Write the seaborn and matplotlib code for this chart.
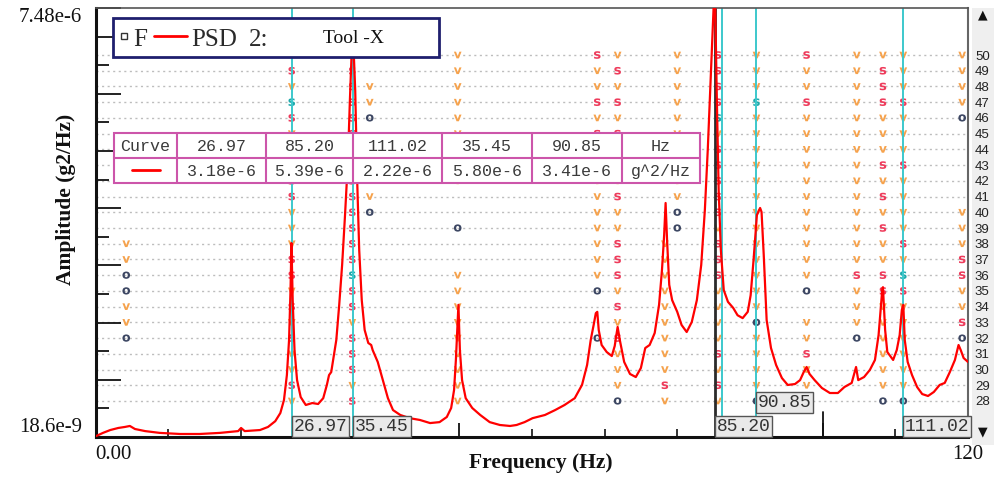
import numpy as np
import pandas as pd
import matplotlib
matplotlib.use("Agg")
import matplotlib.pyplot as plt
import seaborn as sns
from matplotlib.patches import Rectangle
from matplotlib.lines import Line2D
from matplotlib.ticker import FixedLocator, FixedFormatter, NullFormatter

# ---------------------------------------------------------------- data
psd_freq_hz = [0.0, 1.0, 2.0, 3.1, 4.0, 4.7, 5.4, 6.8, 8.8, 11.6, 14.3, 17.1,
               19.6, 20.0, 20.5, 22.6, 23.7, 24.7, 25.4, 25.9, 26.3, 26.6, 26.8, 26.93,
               27.1, 27.35, 27.7, 28.2, 28.9, 29.8, 30.6, 31.3, 31.8, 32.1, 32.4, 32.7,
               33.1, 33.5, 33.9, 34.3, 34.7, 34.97, 35.25, 35.4, 35.7, 35.97, 36.25, 36.6,
               37.0, 37.5, 37.9, 38.1, 38.8, 39.5, 40.2, 40.9, 41.9, 43.2, 44.6, 46.0,
               47.3, 48.3, 48.9, 49.3, 49.55, 49.8, 49.9, 50.1, 50.4, 50.9, 51.8, 52.9,
               54.2, 55.6, 57.0, 57.9, 59.0, 60.1, 61.8, 63.2, 64.5, 65.9, 66.9, 67.6,
               68.1, 68.5, 68.8, 69.0, 69.2, 69.6, 70.3, 71.0, 71.4, 71.8, 72.1, 72.7,
               73.5, 74.3, 75.0, 75.6, 76.2, 76.9, 77.5, 77.9, 78.2, 78.4, 78.6, 78.9,
               79.3, 80.0, 80.6, 81.3, 82.0, 82.7, 83.3, 83.8, 84.2, 84.6, 85.0, 85.2,
               85.45, 85.7, 86.0, 86.4, 86.98, 87.7, 88.3, 89.0, 89.7, 90.1, 90.5, 90.96,
               91.4, 91.6, 91.9, 92.3, 92.9, 93.6, 94.4, 95.2, 96.2, 96.9, 97.4, 97.8,
               98.2, 98.9, 99.9, 101.0, 102.1, 103.0, 104.0, 104.6, 104.9, 105.7, 106.5, 107.2,
               107.7, 108.2, 108.3, 108.6, 108.9, 109.7, 110.2, 110.6, 110.9, 111.1, 111.3, 111.7,
               112.3, 113.0, 113.7, 114.5, 115.3, 116.1, 116.8, 117.5, 118.2, 118.7, 119.0, 119.4, 120.0]
# amplitude in units of 1e-9 g^2/Hz
psd_amp_nano = [18.8, 19.7, 20.5, 21.1, 21.4, 21.7, 20.8, 20.2, 19.7, 19.4, 19.4, 19.7,
                20.2, 21.1, 20.2, 20.5, 21.4, 23.2, 26.0, 31.2, 44.2, 72.2, 145, 280,
                126, 62.7, 41.2, 32.5, 29.1, 29.9, 29.5, 32.0, 38.5, 44.2, 46.1, 56.1,
                72.2, 118, 206, 414, 893, 2070, 4460, 5130, 2380, 676, 254, 126,
                83.0, 69.2, 67.3, 62.7, 53.1, 41.2, 32.0, 27.1, 25.3, 24.2, 23.6, 22.6,
                22.9, 24.6, 27.9, 35.9, 54.6, 95.4, 118, 62.7, 41.2, 32.0, 27.9, 25.3,
                22.9, 22.0, 21.7, 22.0, 22.9, 24.2, 25.3, 27.1, 29.1, 32.0, 38.5, 50.9,
                72.2, 89.0, 105, 107, 83.0, 67.3, 61.0, 57.7, 66.4, 86.6, 72.2, 53.1,
                44.9, 43.0, 48.8, 64.5, 67.3, 79.6, 118, 192, 313, 490, 292, 156,
                126, 107, 89.0, 80.7, 92.8, 126, 206, 444, 1030, 2730, 7480, 9000,
                2070, 587, 254, 145, 123, 113, 102, 98.0, 107, 135, 221, 414,
                457, 432, 237, 95.4, 64.5, 50.9, 42.4, 38.5, 39.0, 41.2, 46.1, 49.5,
                44.9, 41.2, 36.9, 34.4, 34.4, 37.4, 39.6, 49.5, 41.2, 43.0, 47.5, 54.6,
                77.4, 145, 151, 83.0, 61.0, 54.6, 62.7, 77.4, 110, 118, 72.2, 53.1,
                44.2, 37.4, 33.9, 33.0, 34.9, 38.5, 39.6, 46.1, 54.6, 67.3, 62.7, 56.1, 53.1]

y_min = 18.6e-9
y_max = 7.48e-6
y_tick_labels = ["18.6e-9", "7.48e-6"]
x_min, x_max = 0.0, 120.0
x_tick_labels = ["0.00", "120"]

# stabilisation diagram: model orders 50 ... 28 (one character per order)
orders = list(range(50, 27, -1))
stab_freq_hz = [4.2, 26.97, 35.3, 37.7, 49.8, 69.0, 71.8, 78.3, 80.0,
                85.6, 90.9, 97.8, 104.7, 108.3, 111.1, 119.2]
stab_marks = [
    "............vvoovvo....",
    ".svSsvsvssvvvssvsvsvvsv",
    ".sssssssssssssSssvsssvs",
    "..vvo....vo............",
    "vvvvvvvvv..o..vvvvvvvvv",
    "svvsvsvvvvvvvvvo..o....",
    "vsvsvsvsvsvvsssvsvsvvvo",
    "............vvvvvvvvvsv",
    "vvvvvvvvvvoo...........",
    "ssssSvsssssvsssvvvvsvsv",
    "vvvSvvvvvvvvvvvvvovvvvo",
    "svvsvvvvvvvvvvvo.vvsvv.",
    "vvvvvvvvvvvvvvsvvvo....",
    "vsssvvvsvsvsvvssvvvvvvo",
    "vvvsvvvsvvvvsvSsvvvvvvo",
    "vvvvo.....vvvssvvso....",
]

cursor_freq = [26.97, 85.20, 111.02, 35.45, 90.85]
cursor_freq_text = ["26.97", "85.20", "111.02", "35.45", "90.85"]
cursor_amp_text = ["3.18e-6", "5.39e-6", "2.22e-6", "5.80e-6", "3.41e-6"]
active_cursor = 85.20
extra_cursor = 86.15

# ---------------------------------------------------------------- style
sns.set_theme(style="white")
plt.rcParams["font.family"] = ["Liberation Serif", "DejaVu Sans"]

W, H = 994, 480
fig = plt.figure(figsize=(W / 100, H / 100), dpi=100)
fig.patch.set_facecolor("white")


def fx(px):
    return px / W


def fy(py):
    return 1 - py / H


AX_L, AX_R, AX_T, AX_B = 95.7, 968.0, 8.0, 437.0
ax = fig.add_axes([fx(AX_L), fy(AX_B), (AX_R - AX_L) / W, (AX_B - AX_T) / H])
ax2 = ax.twinx()
ax.set_zorder(3)
ax.patch.set_visible(False)
ax2.set_zorder(1)

# right grey strip with scroll arrows
fig.add_artist(Rectangle((fx(972), fy(445)), (994 - 972) / W, (445 - 8) / H,
                         transform=fig.transFigure, facecolor="#efefef",
                         edgecolor="none", zorder=0))
fig.text(fx(983), fy(15), "▲", ha="center", va="center", fontsize=9,
         family="DejaVu Sans", color="#111")
fig.text(fx(983), fy(432), "▼", ha="center", va="center", fontsize=9,
         family="DejaVu Sans", color="#111")

# ---------------------------------------------------------------- stabilisation marks
rows = []
for f, marks in zip(stab_freq_hz, stab_marks):
    assert len(marks) == len(orders)
    for order, ch in zip(orders, marks):
        if ch != ".":
            rows.append({"freq": f, "order": order, "kind": ch})
stab = pd.DataFrame(rows)
kind_palette = {"v": "#f6a24c", "s": "#ee3b5b", "S": "#1fa9ab", "o": "#3d4763"}
kind_markers = {"v": r"$\mathbf{v}$", "s": r"$\mathbf{s}$",
                "S": r"$\mathbf{s}$", "o": r"$\mathbf{o}$"}
sns.scatterplot(data=stab, x="freq", y="order", hue="kind", style="kind",
                palette=kind_palette, markers=kind_markers, s=30, linewidth=0,
                legend=False, ax=ax2)
ax2.set_ylim(25.71, 52.99)
ax2.set_yticks(orders)
ax2.set_yticklabels([str(o) for o in orders])
ax2.tick_params(axis="y", length=0, pad=5, labelsize=9.5, labelcolor="#222",
                right=True, left=False)
for lab in ax2.get_yticklabels():
    lab.set_family("Liberation Sans")
ax2.grid(axis="y", color="#bdbdbd", lw=1, ls=(0, (1.5, 2.5)))
ax2.grid(axis="x", visible=False)
ax2.set_xlabel("")
ax2.set_ylabel("")
for sp in ax2.spines.values():
    sp.set_visible(False)

# ---------------------------------------------------------------- PSD curve
ax.set_yscale("log")
psd = pd.DataFrame({"freq": psd_freq_hz, "amp": np.array(psd_amp_nano) * 1e-9})
sns.lineplot(data=psd, x="freq", y="amp", color="#ff0000", lw=1.6, ax=ax, zorder=4)
ax.set_xlim(x_min, x_max)
ax.set_ylim(y_min, y_max)
ax.set_xlabel("")
ax.set_ylabel("")

for f in cursor_freq:
    if f != active_cursor:
        ax.axvline(f, color="#3cc8cc", lw=1.4, zorder=2)
ax.axvline(extra_cursor, color="#3cc8cc", lw=1.4, zorder=2)
ax.axvline(active_cursor, color="#2b2b2b", lw=2, zorder=2)

# ---------------------------------------------------------------- axes ticks / spines
ratio = y_max / y_min
maj = [y_min * ratio ** (k / 15) for k in [0, 2, 4, 6, 8, 10, 12, 14, 15]]
mino = [y_min * ratio ** (k / 15) for k in range(1, 15, 2)]
ax.yaxis.set_major_locator(FixedLocator(maj))
ax.yaxis.set_major_formatter(FixedFormatter([y_tick_labels[0]] + [""] * 7 + [y_tick_labels[1]]))
ax.yaxis.set_minor_locator(FixedLocator(mino))
ax.yaxis.set_minor_formatter(NullFormatter())
ax.tick_params(axis="y", which="major", direction="in", length=18, width=1.3,
               color="#111", pad=10, labelsize=15, labelcolor="#111", left=True, right=False)
ax.tick_params(axis="y", which="minor", direction="in", length=9.5, width=1.3,
               color="#111", left=True, right=False)
ylabels = ax.get_yticklabels()
ylabels[0].set_va("bottom")
ylabels[-1].set_va("top")

ax.xaxis.set_major_locator(FixedLocator([0, 50, 100, 120]))
ax.xaxis.set_major_formatter(FixedFormatter([x_tick_labels[0], "", "", x_tick_labels[1]]))
ax.xaxis.set_minor_locator(FixedLocator([10, 20, 30, 40, 60, 70, 80, 90, 110]))
ax.xaxis.set_minor_formatter(NullFormatter())
ax.tick_params(axis="x", which="major", direction="in", length=10, width=1.3,
               color="#111", pad=6, labelsize=15, labelcolor="#111", bottom=True, top=False)
ax.tick_params(axis="x", which="minor", direction="in", length=6, width=1.2,
               color="#111", bottom=True, top=False)
xlabels = ax.get_xticklabels()
xlabels[0].set_ha("left")
ax.axvline(100, ymin=0, ymax=25 / 429, color="#111", lw=1.3, zorder=2)

ax.spines["left"].set(color="#111", lw=2.2, visible=True)
ax.spines["bottom"].set(color="#111", lw=2.2, visible=True)
ax.spines["top"].set(color="#555", lw=1.2, visible=True)
ax.spines["right"].set(color="#666", lw=1.5, visible=True)

# cursor value boxes
label_level = {"90.85": 1}
for f, txt in zip(cursor_freq, cursor_freq_text):
    lvl = label_level.get(txt, 0)
    ax.annotate(txt, xy=(f, 0), xycoords=("data", "axes fraction"),
                xytext=(1.3, 1.3 + 17.3 * lvl), textcoords="offset points",
                ha="left", va="bottom", fontsize=13, family="Liberation Mono",
                color="#333", annotation_clip=False, zorder=6,
                bbox=dict(boxstyle="square,pad=0.1", facecolor="#e9e9e9",
                          edgecolor="#555", lw=1))

# ---------------------------------------------------------------- legend box
fig.add_artist(Rectangle((fx(113), fy(57)), (439 - 113) / W, (57 - 18) / H,
                         transform=fig.transFigure, facecolor="white",
                         edgecolor="#1f1f6e", lw=2, zorder=10))
fig.add_artist(Rectangle((fx(121), fy(39)), 6 / W, 6 / H, transform=fig.transFigure,
                         facecolor="white", edgecolor="#333", lw=1, zorder=11))
fig.text(fx(133), fy(46), "F", ha="left", va="baseline", fontsize=18,
         color="#2a2a2a", zorder=11)
fig.add_artist(Line2D([fx(154), fx(187)], [fy(36), fy(36)], transform=fig.transFigure,
                      color="#ff0000", lw=2, zorder=11))
fig.text(fx(191), fy(46), "PSD", ha="left", va="baseline", fontsize=18,
         color="#2a2a2a", zorder=11)
fig.text(fx(249), fy(46), "2:", ha="left", va="baseline", fontsize=18,
         color="#2a2a2a", zorder=11)
fig.text(fx(323), fy(43), "Tool -X", ha="left", va="baseline", fontsize=14,
         color="#111", zorder=11)

# ---------------------------------------------------------------- cursor table
xs = [114, 177, 266, 353, 442, 532, 622, 700]
ys = [133, 158, 183]
tcol = "#cc55aa"
fig.add_artist(Rectangle((fx(xs[0]), fy(ys[-1])), (xs[-1] - xs[0]) / W, (ys[-1] - ys[0]) / H,
                         transform=fig.transFigure, facecolor="white", edgecolor=tcol,
                         lw=1.5, zorder=10))
for x in xs[1:-1]:
    fig.add_artist(Line2D([fx(x), fx(x)], [fy(ys[0]), fy(ys[-1])], transform=fig.transFigure,
                          color=tcol, lw=1.5, zorder=11))
fig.add_artist(Line2D([fx(xs[0]), fx(xs[-1])], [fy(ys[1]), fy(ys[1])], transform=fig.transFigure,
                      color=tcol, lw=1.5, zorder=11))
header = ["Curve"] + cursor_freq_text + ["Hz"]
values = [""] + cursor_amp_text + ["g^2/Hz"]
for i in range(len(xs) - 1):
    cx = (xs[i] + xs[i + 1]) / 2
    fig.text(fx(cx), fy((ys[0] + ys[1]) / 2 + 1), header[i], ha="center", va="center",
             fontsize=12, family="Liberation Mono", color="#3a3a3a", zorder=12)
    if values[i]:
        fig.text(fx(cx), fy((ys[1] + ys[2]) / 2 + 1), values[i], ha="center", va="center",
                 fontsize=12, family="Liberation Mono", color="#3a3a3a", zorder=12)
fig.add_artist(Line2D([fx(132), fx(160)], [fy(170), fy(170)], transform=fig.transFigure,
                      color="#ff0000", lw=2, zorder=12))

# ---------------------------------------------------------------- axis titles
fig.text(fx(541), fy(463), "Frequency (Hz)", ha="center", va="center",
         fontsize=15.5, fontweight="bold", color="#111")
fig.text(fx(66), fy(199), "Amplitude (g2/Hz)", ha="center", va="center",
         rotation=90, fontsize=15.5, fontweight="bold", color="#111")

fig.savefig("out.png", dpi=100, facecolor="white")
